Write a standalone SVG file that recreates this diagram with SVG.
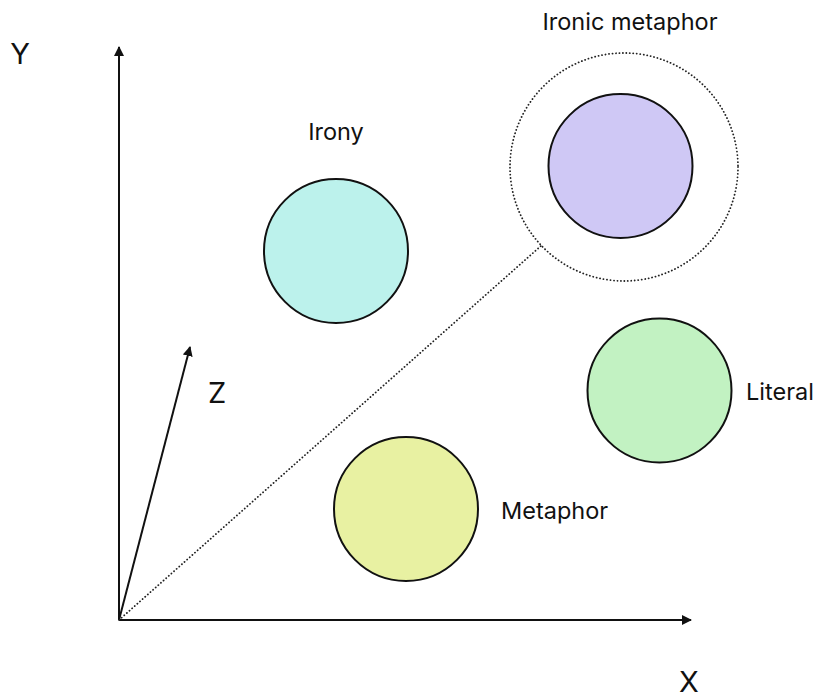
<svg xmlns="http://www.w3.org/2000/svg" width="817" height="698" viewBox="0 0 817 698">
<style>
.lbl{font-family:Inter,"Open Sans","Liberation Sans",sans-serif;font-size:23.5px;fill:#111}
.ax{font-family:Inter,"Open Sans","Liberation Sans",sans-serif;font-size:29px;fill:#111}
.node{stroke:#111;stroke-width:2}
.axis{stroke:#111;stroke-width:2;fill:none}
.dot{stroke:#222;stroke-width:1.8;fill:none;stroke-dasharray:0.1 3.4;stroke-linecap:round}
</style>
<defs>
<marker id="ah" viewBox="0 0 10 10" refX="9" refY="5" markerWidth="10" markerHeight="10" markerUnits="userSpaceOnUse" orient="auto">
<path d="M0,0 L10,5 L0,10 z" fill="#111"/>
</marker>
</defs>
<rect width="817" height="698" fill="#fff"/>
<g id="connectors">
<line class="axis" x1="119" y1="620" x2="119" y2="47" marker-end="url(#ah)"/>
<line class="axis" x1="119" y1="620" x2="691" y2="620" marker-end="url(#ah)"/>
<line class="axis" x1="119" y1="620" x2="190" y2="347" marker-end="url(#ah)"/>
<line class="dot" x1="119" y1="620" x2="542" y2="245"/>
</g>
<g id="axis-labels">
<text class="ax" x="20" y="64" text-anchor="middle">Y</text>
<text class="ax" x="689" y="692" text-anchor="middle">X</text>
<text class="ax" x="217" y="403" text-anchor="middle">Z</text>
</g>
<g id="irony">
<circle class="node" cx="336" cy="251" r="72" fill="#bcf2ec"/>
<text class="lbl" x="336" y="140" text-anchor="middle">Irony</text>
</g>
<g id="ironic-metaphor">
<circle class="dot" cx="624" cy="167" r="114"/>
<circle class="node" cx="620.5" cy="166" r="72" fill="#cfc8f5"/>
<text class="lbl" x="630" y="30" text-anchor="middle">Ironic metaphor</text>
</g>
<g id="literal">
<circle class="node" cx="659.5" cy="390.5" r="72" fill="#c2f2c2"/>
<text class="lbl" x="746" y="400">Literal</text>
</g>
<g id="metaphor">
<circle class="node" cx="406" cy="509" r="72" fill="#e8f1a2"/>
<text class="lbl" x="501" y="519">Metaphor</text>
</g>
</svg>
